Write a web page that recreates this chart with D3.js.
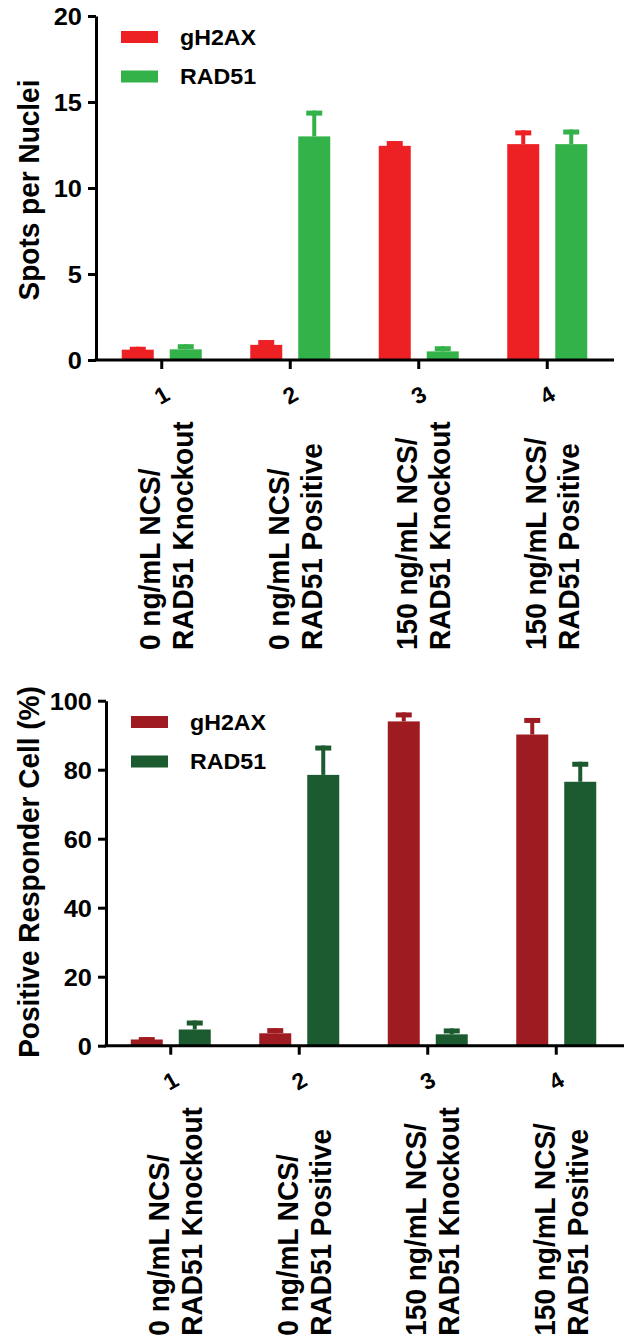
<html>
<head>
<title> Spots and responders </title>
<script src="https://d3js.org/d3.v7.min.js"></script>
<style>
body {
  margin: 0;
  background: white;
}
text {
  font-family: "Liberation Sans", Arial, sans-serif;
  font-weight: bold;
  fill: black;
}
.axis .domain, .axis line {
  stroke: black;
  stroke-width: 3;
}
</style>
</head>
<body>
<svg id="figure" width="624" height="1341"></svg>

<script>

// data
const groups = ["1", "2", "3", "4"];
const groupLabels = [
  ["0 ng/mL NCS/", "RAD51 Knockout"],
  ["0 ng/mL NCS/", "RAD51 Positive"],
  ["150 ng/mL NCS/", "RAD51 Knockout"],
  ["150 ng/mL NCS/", "RAD51 Positive"]
];
const series = ["gH2AX", "RAD51"];

// top panel: spots per nuclei (mean, upper error)
const spotsH2AX = [0.6, 0.88, 12.45, 12.55];
const spotsH2AXErr = [0.17, 0.28, 0.28, 0.8];
const spotsRAD51 = [0.62, 13.0, 0.5, 12.55];
const spotsRAD51Err = [0.3, 1.5, 0.3, 0.85];
const spotsTicks = [0, 5, 10, 15, 20];

// bottom panel: positive responder cell (%)
const respH2AX = [1.8, 3.6, 94.0, 90.2];
const respH2AXErr = [0.7, 1.5, 2.6, 4.8];
const respRAD51 = [4.7, 78.5, 3.3, 76.5];
const respRAD51Err = [2.6, 8.5, 1.7, 5.8];
const respTicks = [0, 20, 40, 60, 80, 100];

const svg = d3.select("svg#figure");

// the original figure is a little wider than tall, stretch text to match
const sx = 1.08;

function drawChart(opt) {
  const g = svg.append("g");

  const yScale = d3.scaleLinear().domain([0, opt.max]).range([opt.y0, opt.y1]);
  const xScale = d3.scaleBand().domain(groups).range([opt.x0, opt.x1]);
  const inner = d3.scaleBand().domain(series).range([-40, 40]).paddingInner(1/3);

  // rows for bars
  let rows = [];
  groups.forEach((grp, i) => {
    rows.push({grp: grp, s: series[0], v: opt.a[i], e: opt.aErr[i], color: opt.colors[0]});
    rows.push({grp: grp, s: series[1], v: opt.b[i], e: opt.bErr[i], color: opt.colors[1]});
  });
  const cx = d => xScale(d.grp) + xScale.bandwidth()/2 + inner(d.s);

  // bars
  g.selectAll("rect.bar").data(rows).enter().append("rect").attr("class", "bar")
    .attr("x", d => cx(d))
    .attr("y", d => yScale(d.v))
    .attr("width", inner.bandwidth())
    .attr("height", d => yScale(0) - yScale(d.v))
    .attr("fill", d => d.color);

  // error bars (upper only)
  g.selectAll("rect.stem").data(rows).enter().append("rect").attr("class", "stem")
    .attr("x", d => cx(d) + inner.bandwidth()/2 - 2)
    .attr("y", d => yScale(d.v + d.e))
    .attr("width", 4)
    .attr("height", d => yScale(d.v) - yScale(d.v + d.e))
    .attr("fill", d => d.color);
  g.selectAll("rect.cap").data(rows).enter().append("rect").attr("class", "cap")
    .attr("x", d => cx(d) + inner.bandwidth()/2 - 8)
    .attr("y", d => yScale(d.v + d.e))
    .attr("width", 16)
    .attr("height", 5)
    .attr("fill", d => d.color);

  // y axis
  const leftAxis = d3.axisLeft(yScale).tickValues(opt.ticks).tickSize(8).tickPadding(5).tickSizeOuter(0);
  const ya = g.append("g").attr("class", "y axis")
    .attr("transform", `translate(${opt.axisX},0)`)
    .call(leftAxis);
  ya.selectAll("text").style("font-size", "23.5px").attr("dy", "0.36em")
    .attr("transform", `scale(${sx},1)`);

  // x axis line and ticks
  g.append("line").attr("class", "xline")
    .attr("x1", opt.axisX - 1.5).attr("x2", opt.lineEnd)
    .attr("y1", yScale(0)).attr("y2", yScale(0))
    .attr("stroke", "black").attr("stroke-width", 3);
  const bottomAxis = d3.axisBottom(xScale).tickSize(9).tickFormat("").tickSizeOuter(0);
  const xa = g.append("g").attr("class", "x axis")
    .attr("transform", `translate(0,${yScale(0)})`)
    .call(bottomAxis);
  xa.select(".domain").remove();
  // tilted group numbers
  xa.selectAll(".tick").append("text")
    .attr("transform", "translate(0,35) rotate(-30)")
    .attr("text-anchor", "middle")
    .attr("dy", "0.36em")
    .style("font-size", "23px")
    .text(d => d);

  // category labels, two rotated lines each
  groups.forEach((grp, i) => {
    const c = xScale(grp) + xScale.bandwidth()/2;
    const t = g.append("text")
      .attr("transform", `translate(${c},${yScale(0) + 290}) rotate(-90) scale(1,${sx})`)
      .style("font-size", "28px");
    t.append("tspan").attr("x", 0).attr("y", -11).attr("dy", "0.35em").text(groupLabels[i][0]);
    t.append("tspan").attr("x", 0).attr("y", 19.5).attr("dy", "0.35em").text(groupLabels[i][1]);
  });

  // y title
  g.append("text")
    .attr("transform", `translate(28,${opt.titleY}) rotate(-90) scale(1,${sx})`)
    .attr("text-anchor", "middle")
    .attr("dy", "0.35em")
    .style("font-size", "28px")
    .text(opt.title);

  // legend
  series.forEach((s, i) => {
    g.append("rect").attr("x", opt.legX).attr("y", opt.legY + i*39.5 - 6)
      .attr("width", 37).attr("height", 12).attr("fill", opt.colors[i]);
    g.append("text")
      .attr("transform", `translate(${opt.legX + 59},${opt.legY + i*39.5}) scale(${sx},1)`)
      .attr("dy", "0.35em").style("font-size", "21.5px").text(s);
  });
}

drawChart({
  a: spotsH2AX, aErr: spotsH2AXErr, b: spotsRAD51, bErr: spotsRAD51Err,
  max: 20, ticks: spotsTicks, y0: 360, y1: 16,
  x0: 97.5, x1: 611.5, axisX: 96, lineEnd: 614,
  colors: ["#ED2024", "#34B24A"],
  title: "Spots per Nuclei", titleY: 190,
  legX: 121, legY: 37
});

drawChart({
  a: respH2AX, aErr: respH2AXErr, b: respRAD51, bErr: respRAD51Err,
  max: 100, ticks: respTicks, y0: 1045.7, y1: 700.7,
  x0: 106.5, x1: 620.5, axisX: 106, lineEnd: 624,
  colors: ["#9E1C21", "#1B5B2F"],
  title: "Positive Responder Cell (%)", titleY: 872,
  legX: 131, legY: 722
});

</script>
</body>
</html>
